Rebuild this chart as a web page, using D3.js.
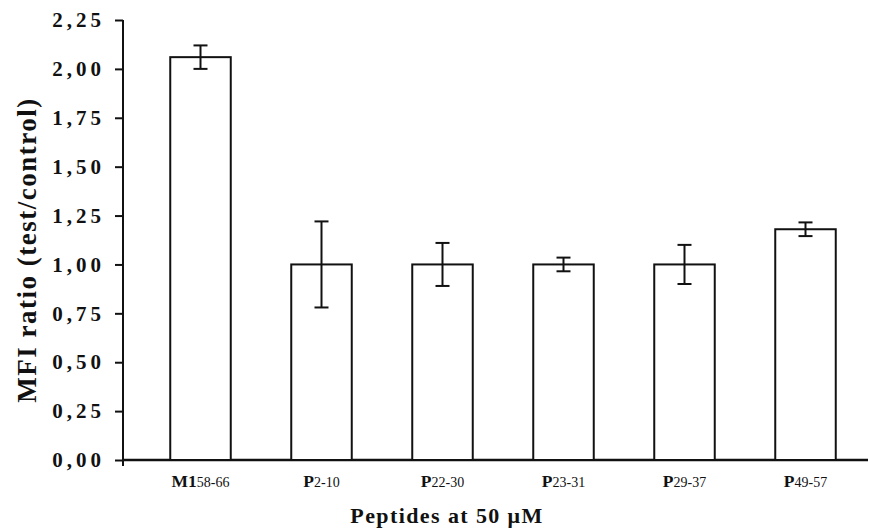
<!DOCTYPE html>
<html>
<head>
<meta charset="utf-8">
<script src="https://cdn.jsdelivr.net/npm/d3@7"></script>
<style>
  body { margin: 0; background: #fff; }
  svg text { font-family: "Liberation Serif", "DejaVu Serif", serif; fill: #111; }
</style>
</head>
<body>
<div id="chart"></div>
<script>
// chart data
var peptides = ['M1', 'P', 'P', 'P', 'P', 'P'];
var subscripts = ['58-66', '2-10', '22-30', '23-31', '29-37', '49-57'];
var mfiRatio = [2.06, 1.00, 1.00, 1.00, 1.00, 1.18];
var errors = [0.06, 0.22, 0.11, 0.035, 0.10, 0.035];
var yTicks = [0, 0.25, 0.5, 0.75, 1.0, 1.25, 1.5, 1.75, 2.0, 2.25];

var width = 876,
    height = 529;

var svg = d3.select('#chart')
            .append('svg')
            .attr('width', width)
            .attr('height', height);

var yScale = d3.scaleLinear().domain([0, 2.25]).range([460, 20]);

var xScale = d3.scaleBand()
               .domain(d3.range(peptides.length))
               .range([140, 866])
               .paddingInner(0.5)
               .paddingOuter(0.25);

var fmt = function(d) { return d3.format('.2f')(d).replace('.', ','); };

// y axis
var yAxis = d3.axisLeft(yScale)
              .tickValues(yTicks)
              .tickFormat(fmt)
              .tickSize(8)
              .tickPadding(10);

var gy = svg.append('g')
            .attr('id', 'y-axis')
            .attr('transform', 'translate(123, 0)')
            .call(yAxis);
gy.select('.domain').remove();
gy.selectAll('line').attr('stroke', '#111').attr('stroke-width', 2);
gy.selectAll('text')
  .style('font-size', '21px')
  .style('font-weight', 'bold')
  .style('letter-spacing', '4px');

svg.append('line')
   .attr('x1', 123).attr('x2', 123)
   .attr('y1', yScale(2.25)).attr('y2', 466)
   .attr('stroke', '#111').attr('stroke-width', 2);

// x axis line
svg.append('line')
   .attr('x1', 122).attr('x2', 868)
   .attr('y1', yScale(0)).attr('y2', yScale(0))
   .attr('stroke', '#111').attr('stroke-width', 2.5);

// bars
svg.selectAll('rect.bar')
   .data(mfiRatio)
   .enter()
   .append('rect')
   .attr('class', 'bar')
   .attr('x', function(d, i) { return xScale(i); })
   .attr('y', function(d) { return yScale(d); })
   .attr('width', xScale.bandwidth())
   .attr('height', function(d) { return yScale(0) - yScale(d); })
   .attr('fill', '#fff')
   .attr('stroke', '#111')
   .attr('stroke-width', 2);

// error bars
var errG = svg.selectAll('g.err')
              .data(mfiRatio)
              .enter()
              .append('g')
              .attr('class', 'err')
              .attr('stroke', '#111')
              .attr('stroke-width', 2);

errG.append('line')
    .attr('x1', function(d, i) { return xScale(i) + xScale.bandwidth() / 2; })
    .attr('x2', function(d, i) { return xScale(i) + xScale.bandwidth() / 2; })
    .attr('y1', function(d, i) { return yScale(d + errors[i]); })
    .attr('y2', function(d, i) { return yScale(d - errors[i]); });

[1, -1].forEach(function(s) {
  errG.append('line')
      .attr('x1', function(d, i) { return xScale(i) + xScale.bandwidth() / 2 - 7; })
      .attr('x2', function(d, i) { return xScale(i) + xScale.bandwidth() / 2 + 7; })
      .attr('y1', function(d, i) { return yScale(d + s * errors[i]); })
      .attr('y2', function(d, i) { return yScale(d + s * errors[i]); });
});

// category labels
var lab = svg.selectAll('text.cat')
             .data(peptides)
             .enter()
             .append('text')
             .attr('class', 'cat')
             .attr('x', function(d, i) { return xScale(i) + xScale.bandwidth() / 2; })
             .attr('y', 487)
             .attr('text-anchor', 'middle');
lab.append('tspan')
   .style('font-size', '17.5px')
   .style('font-weight', 'bold')
   .text(function(d) { return d; });
lab.append('tspan')
   .style('font-size', '14px')
   .text(function(d, i) { return subscripts[i]; });

// axis titles
svg.append('text')
   .attr('x', 447)
   .attr('y', 523)
   .attr('text-anchor', 'middle')
   .style('font-size', '22px')
   .style('font-weight', 'bold')
   .style('letter-spacing', '1.4px')
   .text('Peptides at 50 \u03bcM');

svg.append('text')
   .attr('transform', 'translate(36, 250) rotate(-90)')
   .attr('text-anchor', 'middle')
   .style('font-size', '27px')
   .style('font-weight', 'bold')
   .style('letter-spacing', '1.5px')
   .text('MFI ratio (test/control)');
</script>
</body>
</html>
